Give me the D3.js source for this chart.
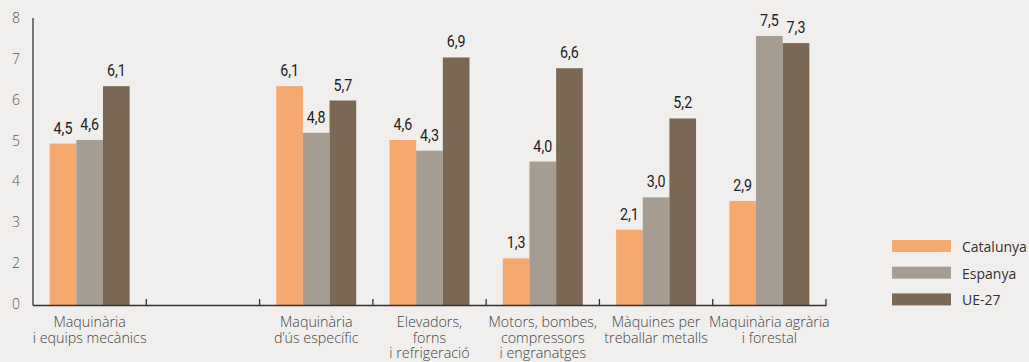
<!DOCTYPE html>
<html>
<head>
<meta charset="utf-8">
<script src="https://cdn.jsdelivr.net/npm/d3@7"></script>
<style>
  html, body { margin: 0; padding: 0; background: #f0efed; }
  svg { display: block; }
</style>
</head>
<body>
<svg id="chart"></svg>
<script>
// categories (the second slot is empty in the original)
const categories = [
  ["Maquinària", "i equips mecànics"],
  [],
  ["Maquinària", "d’ús específic"],
  ["Elevadors,", "forns", "i refrigeració"],
  ["Motors, bombes,", "compressors", "i engranatges"],
  ["Màquines per", "treballar metalls"],
  ["Maquinària agrària", "i forestal"]
];
const series = ["Catalunya", "Espanya", "UE-27"];
const catalunya = [4.5, null, 6.1, 4.6, 1.3, 2.1, 2.9];
const espanya = [4.6, null, 4.8, 4.3, 4.0, 3.0, 7.5];
const ue27 = [6.1, null, 5.7, 6.9, 6.6, 5.2, 7.3];
// y tick labels as printed on the original (no "1")
const yTickLabels = ["8", "7", "6", "5", "4", "3", "2", "0"];
const colors = ["#f5a96f", "#a59c92", "#7a6855"];

const W = 1029, H = 362;
const svg = d3.select("#chart").attr("width", W).attr("height", H);

const x0 = 33, x1 = 826, yTop = 18, yBase = 305;
const values = [catalunya, espanya, ue27];

const x = d3.scaleBand().domain(d3.range(categories.length)).range([x0, x1]).padding(0);
const groupW = x.bandwidth() * 0.706;
const xs = d3.scaleBand().domain(series).range([0, groupW]).padding(0);
const y = d3.scaleLinear().domain([0, 8]).range([yBase, yTop]);
const yLab = d3.scalePoint().domain(yTickLabels).range([yTop, yBase - 1]);

const g = svg.append("g");

// bars
const groups = g.selectAll("g.grp")
  .data(categories.map((c, i) => i))
  .enter().append("g")
  .attr("class", "grp")
  .attr("transform", i => "translate(" + (x(i) + (x.bandwidth() - groupW) / 2) + ",0)");

const barData = i => series.map((s, k) => ({ s: s, k: k, v: values[k][i] })).filter(d => d.v != null);

groups.selectAll("rect")
  .data(barData)
  .enter().append("rect")
  .attr("x", d => xs(d.s))
  .attr("width", xs.bandwidth())
  .attr("y", d => y(d.v))
  .attr("height", d => yBase - y(d.v))
  .attr("fill", d => colors[d.k]);

// value labels, condensed look
groups.selectAll("text")
  .data(barData)
  .enter().append("text")
  .attr("transform", d => "translate(" + (xs(d.s) + xs.bandwidth() / 2) + "," + (y(d.v) - 10) + ") scale(0.84,1)")
  .attr("text-anchor", "middle")
  .style("font-family", "Roboto, sans-serif")
  .style("font-size", "17px")
  .style("fill", "#222")
  .text(d => d3.format(".1f")(d.v).replace(".", ","));

// y axis
g.append("line")
  .attr("x1", x0).attr("x2", x0)
  .attr("y1", yTop).attr("y2", yBase + 0.5)
  .attr("stroke", "#333").attr("stroke-width", 1.3);

g.selectAll("text.ytick")
  .data(yTickLabels)
  .enter().append("text")
  .attr("class", "ytick")
  .attr("x", 20)
  .attr("y", d => yLab(d) + 5)
  .attr("text-anchor", "end")
  .style("font-family", "'Open Sans', sans-serif")
  .style("font-weight", 300)
  .style("font-size", "14px")
  .style("fill", "#555")
  .text(d => d);

// x axis
g.append("line")
  .attr("x1", x0).attr("x2", x1 + 0.5)
  .attr("y1", yBase + 0.5).attr("y2", yBase + 0.5)
  .attr("stroke", "#333").attr("stroke-width", 1.3);

g.selectAll("line.xtick")
  .data(d3.range(1, categories.length + 1))
  .enter().append("line")
  .attr("class", "xtick")
  .attr("x1", i => x0 + i * x.bandwidth())
  .attr("x2", i => x0 + i * x.bandwidth())
  .attr("y1", yBase - 6).attr("y2", yBase + 0.5)
  .attr("stroke", "#333").attr("stroke-width", 1.3);

// category labels, one text per line
categories.forEach((lines, i) => {
  g.selectAll("text.cat" + i)
    .data(lines)
    .enter().append("text")
    .attr("class", "cat" + i)
    .attr("x", x(i) + x.bandwidth() / 2)
    .attr("y", (d, j) => 327 + j * 15.5)
    .attr("text-anchor", "middle")
    .style("font-family", "'Open Sans', sans-serif")
    .style("font-weight", 300)
    .style("font-size", "14.3px")
    .style("fill", "#444")
    .text(d => d);
});

// legend
const legend = svg.append("g").attr("transform", "translate(892,240)");
const lg = legend.selectAll("g")
  .data(series)
  .enter().append("g")
  .attr("transform", (d, i) => "translate(0," + i * 26.7 + ")");
lg.append("rect")
  .attr("width", 59).attr("height", 12)
  .attr("fill", (d, i) => colors[i]);
lg.append("text")
  .attr("x", 70).attr("y", 12)
  .style("font-family", "'Open Sans', sans-serif")
  .style("font-size", "14px")
  .style("fill", "#333")
  .text(d => d);
</script>
</body>
</html>
